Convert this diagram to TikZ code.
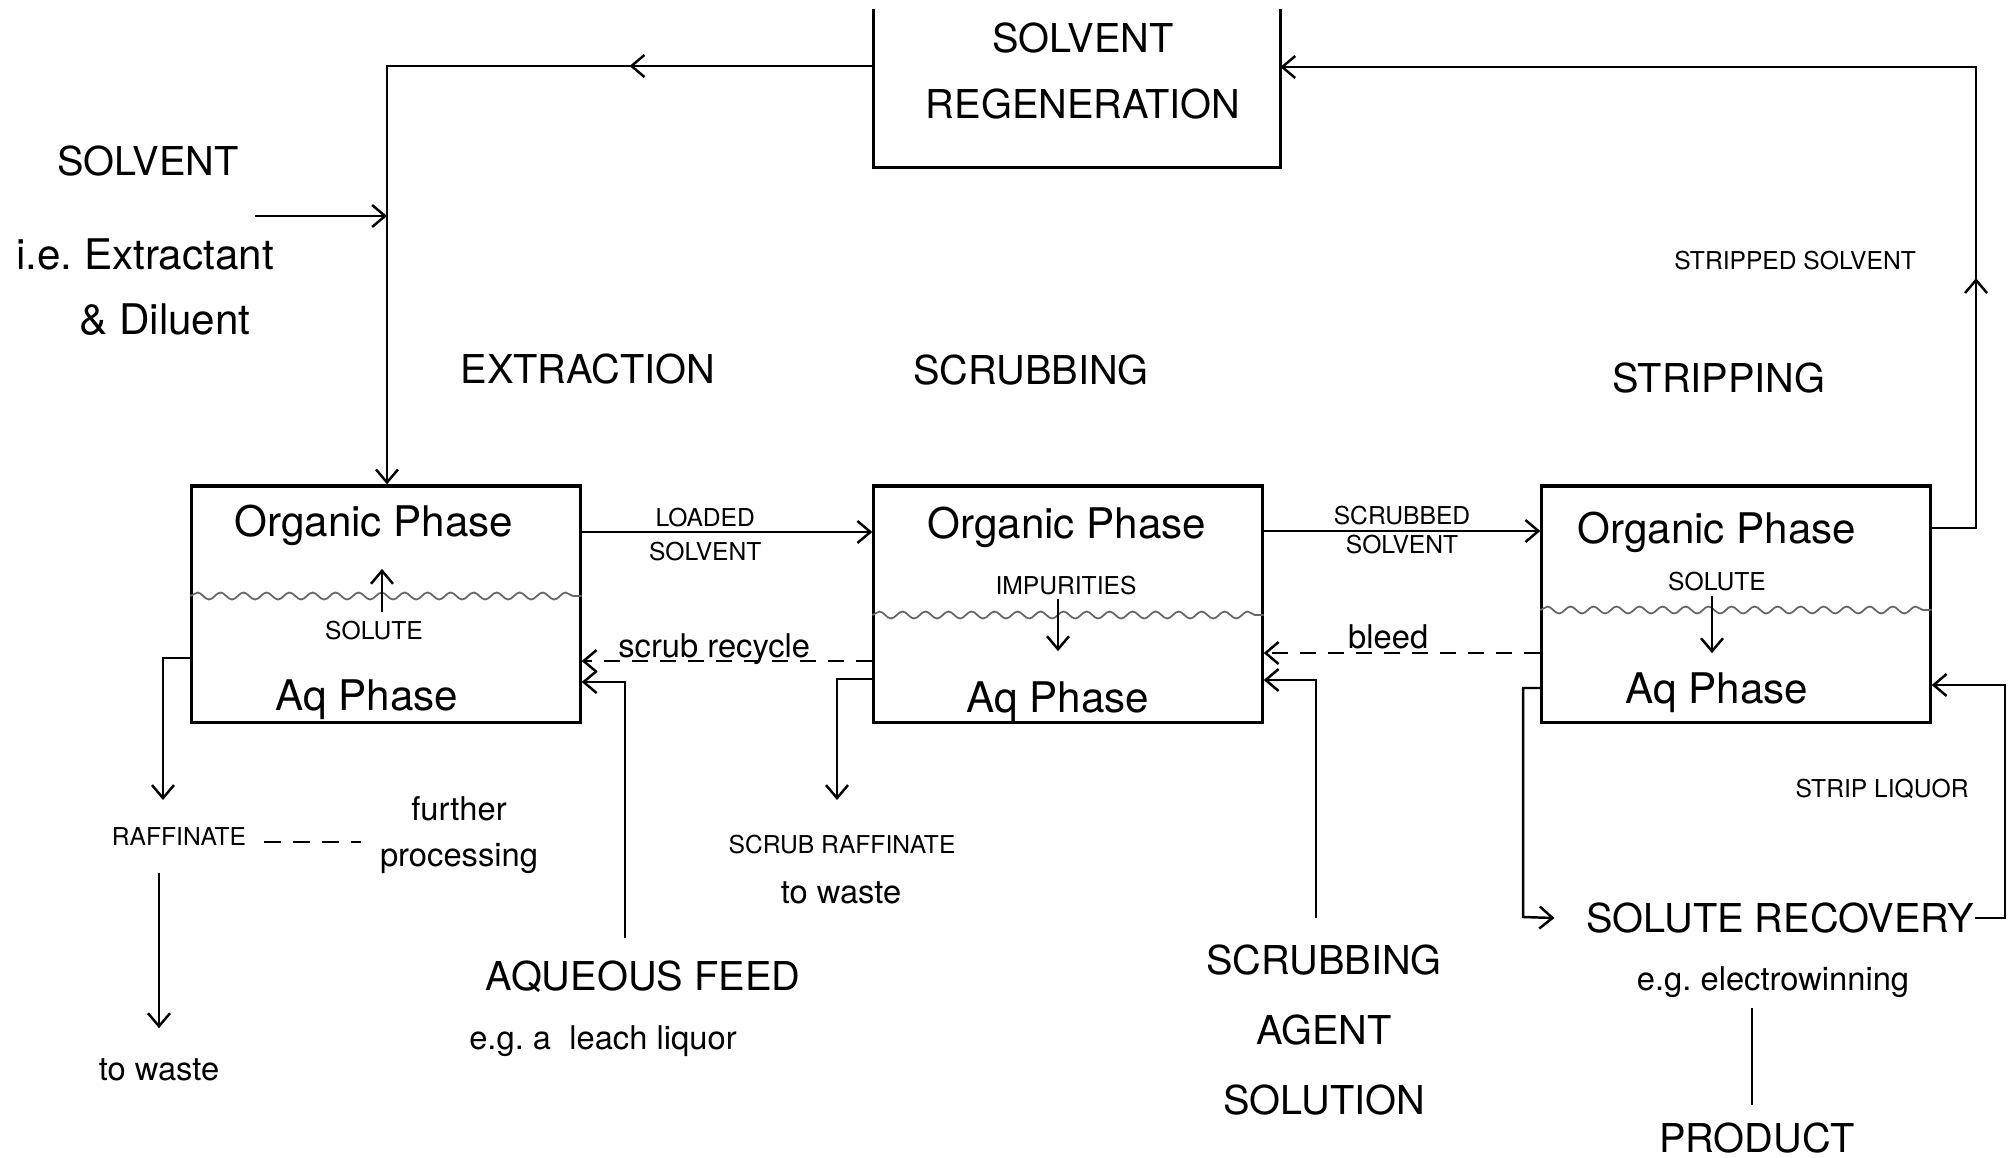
\documentclass[tikz,border=0pt]{standalone}
\usepackage{fontspec}
\setmainfont{TeX Gyre Heros}
\usetikzlibrary{arrows.meta,decorations.pathmorphing,decorations.markings,calc}

\begin{document}
\begin{tikzpicture}[
                x=0.01cm, y=-0.01cm,
                stagebox/.style={draw, line width=0.9pt, minimum width=3.88cm, minimum height=2.36cm, inner sep=0pt},
                pipe/.style={line width=0.7pt},
                arrowend/.style={-{Straight Barb[length=1.3mm, width=2.2mm]}},
                recycle/.style={pipe, arrowend, dash pattern=on 1.6mm off 1.2mm},
                meniscus/.style={line width=0.5pt, black!60, decorate, decoration={snake, segment length=2.3mm, amplitude=0.35mm}},
                midarrow/.style={postaction={decorate}, decoration={markings, mark=at position #1 with {\arrow{Straight Barb[length=1.3mm, width=2.2mm]}}}},
                bigtext/.style={font=\fontsize{11.3}{14}\selectfont, inner sep=0pt},
                phasetext/.style={font=\fontsize{12}{14}\selectfont, inner sep=0pt},
                midtext/.style={font=\fontsize{9.3}{11}\selectfont, inner sep=0pt},
                captext/.style={font=\fontsize{7}{8}\selectfont, inner sep=0pt}
                ]
                \useasboundingbox (0,0) rectangle (2016,1157);

                \node[stagebox] (ext) at (386,604) {};
                \node[stagebox] (scr) at (1068,604) {};
                \node[stagebox] (str) at (1736,604) {};
                \node[minimum width=4.05cm, minimum height=1.57cm, inner sep=0pt] (regen) at (1077,88) {};
                \draw[line width=0.9pt] (regen.north west) -- (regen.south west) -- (regen.south east) -- (regen.north east);
                \node[bigtext, align=center, font=\fontsize{11.3}{19}\selectfont] (regtxt) at (1083,71) {SOLVENT\\REGENERATION};

                \node[bigtext] (solv) at (148,161) {SOLVENT};
                \node[phasetext] (extr) at (145,254) {i.e.\ Extractant};
                \node[phasetext] (dil) at (165,320) {\& Diluent};
                \node[bigtext] (title1) at (588,369) {EXTRACTION};
                \node[bigtext] (title2) at (1031,370) {SCRUBBING};
                \node[bigtext] (title3) at (1719,378) {STRIPPING};
                \node[captext] (strsolv) at (1795,261) {STRIPPED SOLVENT};

                \node[phasetext] (org1) at (374,525) {Organic Phase};
                \node[captext] (sol1) at (374,631) {SOLUTE};
                \node[phasetext] (aq1) at (367,700) {Aq Phase};
                \node[phasetext] (org2) at (1067,527) {Organic Phase};
                \node[captext] (imp) at (1066,586) {IMPURITIES};
                \node[phasetext] (aq2) at (1058,702) {Aq Phase};
                \node[phasetext] (org3) at (1717,532) {Organic Phase};
                \node[captext] (sol3) at (1717,582) {SOLUTE};
                \node[phasetext] (aq3) at (1717,693) {Aq Phase};

                \draw[meniscus] (ext.west |- 0,596) -- (ext.east |- 0,596);
                \draw[meniscus] (scr.west |- 0,615) -- (scr.east |- 0,615);
                \draw[meniscus] (str.west |- 0,610) -- (str.east |- 0,610);
                \draw[pipe, arrowend] (sol1.north) ++(8,-9) -- ++(0,-43);
                \draw[pipe, arrowend] (imp.south) ++(-8,3) -- ++(0,52);
                \draw[pipe, arrowend] (sol3.south) ++(-5,4) -- ++(0,57);

                \coordinate (topleft) at (387,66);
                \coordinate (solvin) at (255,216);
                \draw[pipe, arrowend, midarrow=2.44cm] (regen.west |- topleft) -- (topleft) -- (topleft |- ext.north);
                \draw[pipe, arrowend] (solvin) -- (topleft |- solvin);

                \draw[pipe, arrowend] (ext.east |- 0,532) -- node[captext, above=1.2pt, pos=0.425] (loaded) {LOADED} node[captext, below=2.4pt, pos=0.425] (loadsolv) {SOLVENT} (scr.west |- 0,532);
                \draw[recycle] (scr.west |- 0,661) -- node[midtext, above=-1.5pt, pos=0.544] (scrubrec) {scrub recycle} (ext.east |- 0,661);
                \draw[pipe, arrowend] (scr.east |- 0,531) -- node[captext, above=1.4pt] (scrubbed) {SCRUBBED} node[captext, below=0.8pt] (scrsolv) {SOLVENT} (str.west |- 0,531);
                \draw[recycle] (str.west |- 0,653) -- node[midtext, above=0.8pt, pos=0.55] (bleed) {bleed} (scr.east |- 0,653);

                \node[bigtext] (feed) at (643,977) {AQUEOUS FEED};
                \node[midtext] (leach) at (603,1041) {e.g.\ a\ \ leach liquor};
                \coordinate (feedtop) at (625,938);
                \draw[pipe, arrowend] (feedtop) |- (ext.east |- 0,682);

                \node[captext] (raff) at (179,837) {RAFFINATE};
                \node[midtext] (waste1) at (159,1070) {to waste};
                \node[midtext, align=center, font=\fontsize{9.3}{13}\selectfont] (further) at (459,835) {further\\processing};
                \coordinate (raffin) at (163,800);
                \draw[pipe, arrowend] (ext.west |- 0,658) -| (raffin);
                \draw[pipe, arrowend] (raff.south -| waste1.north) ++(0,26) -- ($(waste1.north)+(0,-30)$);
                \draw[pipe, dash pattern=on 1.7mm off 1.2mm] ($(raff.east)+(17,5)$) -- ($(further.west |- raff.east)+(-18,5)$);

                \node[captext] (sraff) at (842,845) {SCRUB RAFFINATE};
                \node[midtext] (waste2) at (841,893) {to waste};
                \coordinate (sraffin) at (837,800);
                \draw[pipe, arrowend] (scr.west |- 0,679) -| (sraffin);

                \node[bigtext, align=center, font=\fontsize{11.3}{19.9}\selectfont] (agent) at (1324,1030) {SCRUBBING\\AGENT\\SOLUTION};
                \coordinate (agenttop) at (1316,918);
                \draw[pipe, arrowend] (agenttop) |- (scr.east |- 0,680);

                \coordinate (topright) at (1976,67);
                \draw[pipe, arrowend, midarrow=2.94cm] (str.east |- 0,528) -| (topright) -- (regen.east |- topright);

                \node[bigtext] (recov) at (1780,918) {SOLUTE RECOVERY};
                \node[captext] (liquor) at (1882,789) {STRIP LIQUOR};
                \node[midtext] (ew) at (1773,982) {e.g.\ electrowinning};
                \node[bigtext] (prod) at (1757,1138) {PRODUCT};
                \coordinate (aqout) at (1523,917);
                \coordinate (stripright) at (2005,917);
                \draw[pipe, arrowend] (str.west |- 0,688) -| (aqout) -- ($(recov.west)+(-31,0)$);
                \draw[pipe, arrowend] (recov.east) -- (stripright |- recov.east) |- (str.east |- 0,685);
                \draw[pipe] ($(ew.south -| prod.north)+(-5,10)$) -- ($(prod.north)+(-5,-17)$);
                \end{tikzpicture}
\end{document}
